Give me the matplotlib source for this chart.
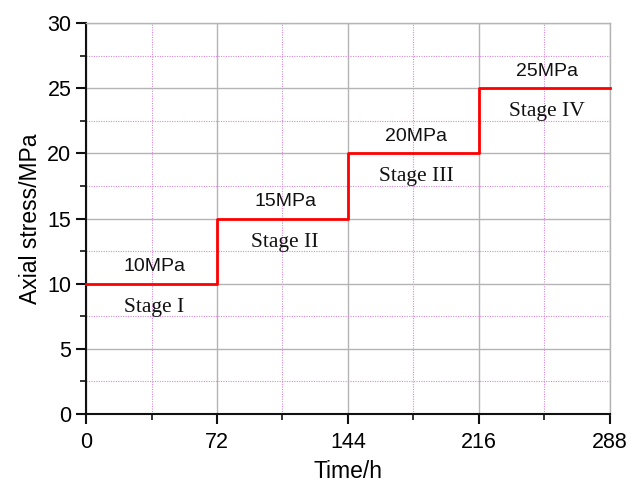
import matplotlib
matplotlib.use("Agg")
import matplotlib.pyplot as plt
from matplotlib.ticker import MultipleLocator

time_h = [0, 72, 144, 216, 288]
stress_mpa = [10, 15, 20, 25, 25]
stage_x = [36, 108, 180, 252]
stage_stress = [10, 15, 20, 25]
load_labels = ["10MPa", "15MPa", "20MPa", "25MPa"]
stage_labels = ["Stage I", "Stage II", "Stage III", "Stage IV"]

sans = ["Liberation Sans", "DejaVu Sans"]
serif = ["Liberation Serif", "DejaVu Serif"]

fig = plt.figure(figsize=(6.28, 4.82), dpi=100)
ax = fig.add_axes([0.137, 0.141, 0.834, 0.811])

ax.set_xlim(0, 288)
ax.set_ylim(0, 30)
ax.xaxis.set_major_locator(MultipleLocator(72))
ax.xaxis.set_minor_locator(MultipleLocator(36))
ax.yaxis.set_major_locator(MultipleLocator(5))
ax.yaxis.set_minor_locator(MultipleLocator(2.5))

ax.grid(which="major", color="#b4b4b4", linestyle="-", linewidth=1.0)
ax.grid(which="minor", color="#d68ad6", linestyle=(0, (1, 1.2)), linewidth=0.8)
ax.set_axisbelow(True)

ax.step(time_h, stress_mpa, where="post", color="#ff0000", linewidth=2.0, clip_on=False, zorder=3)

for x, v, lab, st in zip(stage_x, stage_stress, load_labels, stage_labels):
    ax.text(x + 1.5, v + 1.3, lab, ha="center", va="center", fontsize=14, family=sans, color="#111111")
    ax.text(x + 1.5, v - 1.8, st, ha="center", va="center", fontsize=15.5, family=serif, color="#111111")

for side in ["top", "right"]:
    ax.spines[side].set_color("#b4b4b4")
    ax.spines[side].set_linewidth(1.0)
for side in ["left", "bottom"]:
    ax.spines[side].set_color("#111111")
    ax.spines[side].set_linewidth(1.5)

ax.tick_params(which="major", direction="out", length=7, width=1.5, labelsize=15.5, color="#111111")
ax.tick_params(axis="x", which="major", pad=6)
ax.tick_params(which="minor", direction="out", length=4, width=1.2, color="#111111")
for lab in ax.get_xticklabels() + ax.get_yticklabels():
    lab.set_family(sans)

ax.set_xlabel("Time/h", fontsize=16.5, family=sans, labelpad=5)
ax.set_ylabel("Axial stress/MPa", fontsize=16.5, family=sans, labelpad=4)

fig.savefig("out.png", dpi=100)
